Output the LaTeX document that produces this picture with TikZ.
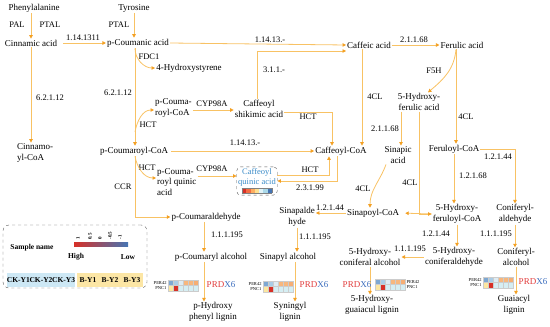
\documentclass[tikz,border=0pt]{standalone}
\usepackage{fontspec}
\setmainfont{Liberation Serif}
\usepackage{xcolor}
\usepackage{tikz}
\usetikzlibrary{arrows.meta, positioning}

\definecolor{linec}{RGB}{248,194,100}
\definecolor{tipc}{RGB}{243,160,35}
\definecolor{cqblue}{RGB}{60,140,200}
\definecolor{prdred}{RGB}{225,60,60}
\definecolor{prdblue}{RGB}{60,110,190}
\definecolor{ckblue}{RGB}{205,232,245}
\definecolor{byel}{RGB}{252,230,165}
\definecolor{hp1}{RGB}{126,168,210}
\definecolor{hp2}{RGB}{170,204,230}
\definecolor{hp3}{RGB}{222,236,243}
\definecolor{hp4}{RGB}{247,183,126}
\definecolor{hp5}{RGB}{246,174,116}
\definecolor{hn1}{RGB}{252,231,160}
\definecolor{hn2}{RGB}{215,48,39}
\definecolor{hn3}{RGB}{213,238,243}
\definecolor{hb1}{RGB}{215,48,39}
\definecolor{hb2}{RGB}{244,109,67}
\definecolor{hb3}{RGB}{253,174,97}
\definecolor{hb4}{RGB}{254,224,144}
\definecolor{hb5}{RGB}{224,243,248}
\definecolor{hb6}{RGB}{171,217,233}
\definecolor{hb7}{RGB}{69,117,180}

% small 2x6 expression map: name, x, y, label anchor, label x
\newcommand{\heatmap}[5]{%
  \foreach \c [count=\i from 0] in {hp1,hp2,hp3,hp4,hp4,hp5}
    \filldraw[fill=\c, draw=gray!40, line width=0.2pt] (#2+5*\i,#3) rectangle ++(5,5.5);
  \foreach \c [count=\i from 0] in {hn1,hn2,hn3,hn3,hn3,hn3}
    \filldraw[fill=\c, draw=gray!40, line width=0.2pt] (#2+5*\i,#3+5.5) rectangle ++(5,5.5);
  \node[hlab, anchor=#4](#1-a) at (#5,#3+2.75) {PER42};
  \node[hlab, anchor=#4](#1-b) at (#5,#3+8.25) {PNC1};
}
\newcommand{\heatbar}{{\setlength{\fboxsep}{0pt}\setlength{\fboxrule}{0.3pt}%
  \fcolorbox{gray}{white}{\textcolor{hb1}{\rule{4.3pt}{5pt}}%
  \textcolor{hb2}{\rule{4.3pt}{5pt}}\textcolor{hb3}{\rule{4.3pt}{5pt}}%
  \textcolor{hb4}{\rule{4.3pt}{5pt}}\textcolor{hb5}{\rule{4.3pt}{5pt}}%
  \textcolor{hb6}{\rule{4.3pt}{5pt}}\textcolor{hb7}{\rule{4.3pt}{5pt}}}}}
\newcommand{\prdxsix}{\textcolor{prdred}{PRD}\textcolor{prdblue}{X6}}

\begin{document}
\begin{tikzpicture}[x=1pt, y=-1pt,
    met/.style={font=\fontsize{9}{10.5}\selectfont, inner sep=1pt, align=center},
    enz/.style={font=\fontsize{8.5}{10}\selectfont, inner sep=0.5pt},
    flow/.style={draw=linec, line width=0.8pt, -{Triangle[length=3.5pt, width=3.5pt, color=tipc]}},
    hlab/.style={font=\fontsize{4.5}{5}\selectfont, inner sep=0.3pt},
    prdx/.style={font=\fontsize{9}{10}\selectfont, inner sep=0.5pt},
    lgd/.style={font=\fontsize{7.5}{9}\selectfont\bfseries, inner sep=0.5pt},
    tick/.style={font=\fontsize{5}{6}\selectfont\bfseries, inner sep=0.3pt, rotate=90, anchor=west},
    sbox/.style={font=\fontsize{7.5}{9}\selectfont\bfseries, inner sep=0pt, minimum width=22.5pt, minimum height=14pt}
  ]
  \useasboundingbox (0,0) rectangle (550,327);

  % metabolites
  \node[met](phe) at (34,8) {Phenylalanine};
  \node[met](tyr) at (134,8) {Tyrosine};
  \node[met](cin) at (31,43) {Cinnamic acid};
  \node[met](pca) at (138,43) {p-Coumanic acid};
  \node[met](hst) at (189,68) {4-Hydroxystyrene};
  \node[met, align=left, anchor=west](cic) at (16,153) {Cinnamo-\\yl-CoA};
  \node[met, align=left, anchor=west](pcs) at (154,108) {p-Couma-\\royl-CoA};
  \node[met](csa) at (259,109) {Caffeoyl\\shikimic acid};
  \node[met](caf) at (369,45) {Caffeic acid};
  \node[met](fer) at (462,45) {Ferulic acid};
  \node[met](hfa) at (419,102) {5-Hydroxy-\\ferulic acid};
  \node[met](pcc) at (134,151) {p-Coumaroyl-CoA};
  \node[met](cfc) at (341,151) {Caffeoyl-CoA};
  \node[met](sin) at (398,155) {Sinapic\\acid};
  \node[met](frc) at (454,149) {Feruloyl-CoA};
  \node[met, align=left, anchor=west](pcq) at (156,182) {p-Couma-\\royl quinic\\acid};
  \node[met, font=\fontsize{8.5}{10}\selectfont, text=cqblue, draw=gray!70!black, dashed, rounded corners=4pt, inner sep=1.5pt](cqa) at (257,181) {Caffeoyl\\quinic acid\\[-1pt]\heatbar};
  \node[met](pald) at (206,217) {p-Coumaraldehyde};
  \node[met](spd) at (297,217) {Sinapalde\\hyde};
  \node[met](spc) at (373,213) {Sinapoyl-CoA};
  \node[met](hfc) at (457,214) {5-Hydroxy-\\feruloyl-CoA};
  \node[met](cfa) at (515,214) {Coniferyl-\\aldehyde};
  \node[met](palc) at (211,257) {p-Coumaryl alcohol};
  \node[met](spa) at (288,257) {Sinapyl alcohol};
  \node[met](hca) at (370,257) {5-Hydroxy-\\coniferal alcohol};
  \node[met](hcd) at (454,257) {5-Hydroxy-\\coniferaldehyde};
  \node[met](cfl) at (516,257) {Coniferyl-\\alcohol};
  \node[met](phl) at (213,312) {p-Hydroxy\\phenyl lignin};
  \node[met](syl) at (290,312) {Syningyl\\lignin};
  \node[met](hgl) at (372,305) {5-Hydroxy-\\guaiacul lignin};
  \node[met](gul) at (514,305) {Guaiacyl\\lignin};

  % enzymes
  \node[enz](pal) at (17,25) {PAL};
  \node[enz](ptal1) at (50,25) {PTAL};
  \node[enz](ptal2) at (119,25) {PTAL};
  \node[enz](e1) at (83,38) {1.14.1311};
  \node[enz](fdc) at (149,57) {FDC1};
  \node[enz](e2) at (50,98) {6.2.1.12};
  \node[enz](e3) at (118,93) {6.2.1.12};
  \node[enz](e4) at (270,40) {1.14.13.-};
  \node[enz](e5) at (274,70) {3.1.1.-};
  \node[enz](e6) at (414,40) {2.1.1.68};
  \node[enz](f5h) at (434,71) {F5H};
  \node[enz](cl1) at (375,97) {4CL};
  \node[enz](cl2) at (466,117) {4CL};
  \node[enz](cyp1) at (212,104) {CYP98A};
  \node[enz](hct1) at (148,125) {HCT};
  \node[enz](hct2) at (308,117) {HCT};
  \node[enz](e7) at (245,143) {1.14.13.-};
  \node[enz](e8) at (385,129) {2.1.1.68};
  \node[enz](hct3) at (147,168) {HCT};
  \node[enz](cyp2) at (212,169) {CYP98A};
  \node[enz](hct4) at (310,170) {HCT};
  \node[enz](e9) at (310,188) {2.3.1.99};
  \node[enz](ccr) at (123,187) {CCR};
  \node[enz](cl3) at (363,189) {4CL};
  \node[enz](cl4) at (410,183) {4CL};
  \node[enz](e10) at (498,157) {1.2.1.44};
  \node[enz](e11) at (473,176) {1.2.1.68};
  \node[enz](e12) at (330,208) {1.2.1.44};
  \node[enz](e13) at (227,235) {1.1.1.195};
  \node[enz](e14) at (315,237) {1.1.1.195};
  \node[enz](e15) at (436,234) {1.2.1.44};
  \node[enz](e16) at (496,234) {1.1.1.195};
  \node[enz](e17) at (410,249) {1.1.1.195};

  % connectors
  \draw[flow] (phe.south -| cin.north) -- (cin.north);
  \draw[flow] (tyr.south) -- (tyr.south |- pca.north);
  \draw[flow, shorten <=5pt] (cin.east) -- (pca.west);
  \draw[flow] ([xshift=-3pt]pca.south) to[out=-90, in=180] (hst.west);
  \draw[flow] (cin.south) -- (cin.south |- cic.north);
  \draw[flow] ([xshift=-3pt]pca.south) -- ([xshift=-3pt]pca.south |- pcc.north);
  \coordinate (j1) at (135,132);
  \draw[flow] (j1) to[out=80, in=180] ([yshift=-2pt]pcs.west);
  \draw[flow] ([yshift=-2pt]pcs.east) -- ([yshift=-2pt]pcs.east -| csa.west);
  \draw[flow] (pca.east) -- (caf.west);
  \draw[flow] ([xshift=-2pt]csa.north) |- ([yshift=-6pt]caf.west);
  \draw[flow] (caf.east) -- (fer.west);
  \draw[flow] ([xshift=-6pt]fer.south) to[out=-95, in=40] ([xshift=9pt]hfa.north);
  \draw[flow] ([xshift=-6pt]fer.south) -- ([xshift=-6pt]fer.south |- frc.north);
  \draw[flow] ([xshift=-7pt]caf.south) -- ([xshift=-7pt]caf.south |- cfc.north);
  \draw[flow] ([xshift=-18pt]hfa.south) -- ([xshift=-18pt]hfa.south |- sin.north);
  \draw[flow, shorten >=5pt] (hfc.west) -- (spc.east);
  \draw[flow] (hfa.south) |- (hfc.west);
  \draw[flow] ([xshift=-12pt]sin.south) to[out=-110, in=90] ([xshift=-3pt]spc.north);
  \draw[flow] (frc.east) -| (cfa.north);
  \draw[flow] (frc.south) -- (frc.south |- hfc.north);
  \draw[flow] (hfc.south) -- (hfc.south |- hcd.north);
  \draw[flow] (cfa.south) -- (cfa.south |- cfl.north);
  \draw[flow] (hcd.west) -- (hca.east);
  \draw[flow] (hca.south) -- (hca.south |- hgl.north);
  \draw[flow] (cfl.south) -- (cfl.south |- gul.north);
  \draw[flow, shorten <=2pt] (pcc.east) -- (cfc.west);
  \draw[flow] ([xshift=1pt]pcc.south) to[out=-80, in=180] ([yshift=4pt]pcq.west);
  \draw[flow] ([yshift=6pt]pcq.east) -- ([yshift=6pt]pcq.east -| cqa.west);
  \draw[flow] ([xshift=1pt]pcc.south) |- (pald.west);
  \draw[flow] ([yshift=-3pt]csa.east) -| ([xshift=-9pt]cfc.north);
  \draw[flow] ([yshift=6pt]cqa.east) -| ([xshift=-12pt]cfc.south);
  \draw[flow] ([xshift=-4pt]cfc.south) |- (cqa.east);
  \draw[flow] (spc.west) -- (spc.west -| spd.east);
  \draw[flow] (spd.south) -- (spd.south |- spa.north);
  \draw[flow] ([xshift=7pt]spa.south) -- ([xshift=7pt]spa.south |- syl.north);
  \draw[flow] ([xshift=-2pt]pald.south) -- ([xshift=-2pt]pald.south |- palc.north);
  \draw[flow] ([xshift=-7pt]palc.south) -- ([xshift=-7pt]palc.south |- phl.north);

  % expression maps
  \heatmap{h1}{168}{280}{east}{167}
  \heatmap{h2}{263}{281}{east}{262}
  \heatmap{h3}{375}{279}{west}{406}
  \heatmap{h4}{483}{277}{east}{482}
  \node[prdx](p1) at (221,285) {\prdxsix};
  \node[prdx](p2) at (314,285) {\prdxsix};
  \node[prdx](p3) at (357,285) {\prdxsix};
  \node[prdx](p4) at (533,282) {\prdxsix};

  % legend
  \node[draw=gray!70!black, dashed, rounded corners=6pt, minimum width=144pt, minimum height=63pt](leg) at (75,256.5) {};
  \node[lgd](sname) at (32,248) {Sample name};
  \shade[left color=hb1, middle color=hb4!40!white, right color=hb7] (74,242) rectangle (128,246);
  \foreach \v/\xx [count=\i] in {1/78, 0.5/90, 0/100, -0.5/110, -1/120}
    \node[tick](tk\i) at (\xx,240) {\v};
  \node[lgd](high) at (76,257) {High};
  \node[lgd](low) at (128,257) {Low};
  \foreach \s [count=\i from 0] in {CK-Y1,CK-Y2,CK-Y3}
    \node[sbox, fill=ckblue](ck\i) at (18.3+22.7*\i,280) {\s};
  \foreach \s [count=\i from 0] in {B-Y1,B-Y2,B-Y3}
    \node[sbox, fill=byel](by\i) at (88+22*\i,280) {\s};
\end{tikzpicture}
\end{document}
